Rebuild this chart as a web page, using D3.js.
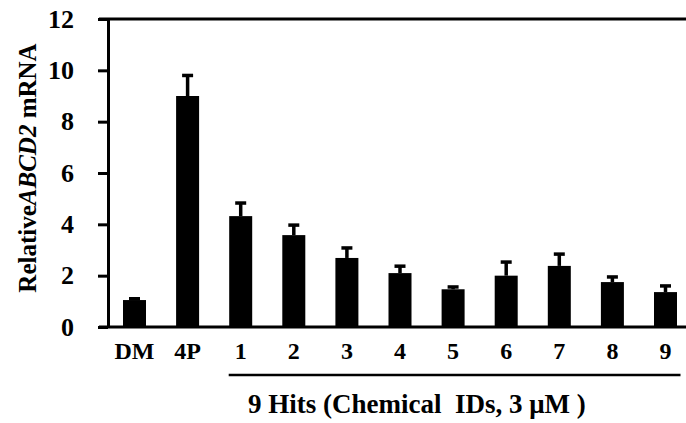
<!DOCTYPE html>
<html>
<head>
<meta charset="utf-8">
<script src="https://cdn.jsdelivr.net/npm/d3@7"></script>
<style>
  body { margin: 0; background: #fff; }
  svg text { font-family: "Liberation Serif", "Times New Roman", "DejaVu Serif", serif !important; font-weight: bold; fill: #000; }
</style>
</head>
<body>
<svg width="686" height="423"></svg>
<script>
// data
const categories = ["DM", "4P", "1", "2", "3", "4", "5", "6", "7", "8", "9"];
const means = [1.05, 9.0, 4.32, 3.58, 2.69, 2.1, 1.47, 2.0, 2.38, 1.75, 1.36];
const errors = [0.05, 0.8, 0.51, 0.39, 0.39, 0.27, 0.09, 0.53, 0.46, 0.2, 0.24];
const yTicks = [0, 2, 4, 6, 8, 10, 12];
const hitsLabel = "9 Hits (Chemical\u00a0\u00a0IDs, 3 \u03bcM )";

var svg = d3.select("svg");
const g = svg.append("g");

var y = d3.scaleLinear().domain([0, 12]).range([327, 19]);
var x = d3.scalePoint().domain(categories).range([134.5, 665.5]);
const barW = 23;

// bars
g.selectAll("rect.bar")
  .data(categories)
  .enter()
  .append("rect")
  .attr("class", "bar")
  .attr("x", (d) => x(d) - barW / 2)
  .attr("y", (d, i) => y(means[i]))
  .attr("width", barW)
  .attr("height", (d, i) => y(0) - y(means[i]))
  .attr("fill", "#000");

// error bars (upper only)
g.selectAll("line.err")
  .data(categories)
  .enter()
  .append("line")
  .attr("x1", (d) => x(d))
  .attr("x2", (d) => x(d))
  .attr("y1", (d, i) => y(means[i]))
  .attr("y2", (d, i) => y(means[i] + errors[i]))
  .attr("stroke", "#000")
  .attr("stroke-width", 3.5);

g.selectAll("line.cap")
  .data(categories)
  .enter()
  .append("line")
  .attr("x1", (d) => x(d) - 5.5)
  .attr("x2", (d) => x(d) + 5.5)
  .attr("y1", (d, i) => y(means[i] + errors[i]))
  .attr("y2", (d, i) => y(means[i] + errors[i]))
  .attr("stroke", "#000")
  .attr("stroke-width", 3.5);

// y axis
const yAxis = g.append("g")
  .attr("transform", "translate(108,0)")
  .call(d3.axisLeft(y).tickValues(yTicks).tickSize(10).tickPadding(24).tickSizeOuter(0));
yAxis.attr("font-family", null);
yAxis.select(".domain").attr("stroke-width", 3);
yAxis.selectAll(".tick line").attr("stroke-width", 3);
yAxis.selectAll(".tick text").attr("font-size", 26);

// x axis line and top line
g.append("line")
  .attr("x1", 99).attr("x2", 686)
  .attr("y1", y(0)).attr("y2", y(0))
  .attr("stroke", "#000").attr("stroke-width", 3);
g.append("line")
  .attr("x1", 99).attr("x2", 686)
  .attr("y1", y(12)).attr("y2", y(12))
  .attr("stroke", "#000").attr("stroke-width", 3);

// x labels
g.selectAll("text.xlab")
  .data(categories)
  .enter()
  .append("text")
  .attr("class", "xlab")
  .attr("x", (d) => x(d))
  .attr("y", 359)
  .attr("text-anchor", "middle")
  .attr("font-size", 24)
  .text((d) => d);

// bracket under the hits
g.append("line")
  .attr("x1", x("1") - 12).attr("x2", x("9") + 15)
  .attr("y1", 375).attr("y2", 375)
  .attr("stroke", "#000").attr("stroke-width", 2.5);

g.append("text")
  .attr("x", 248)
  .attr("y", 413)
  .attr("font-size", 27)
  .text(hitsLabel);

// y title
const yt = g.append("text")
  .attr("transform", "translate(36,168) rotate(-90)")
  .attr("text-anchor", "middle")
  .attr("font-size", 25);
yt.append("tspan").text("Relative");
yt.append("tspan").attr("font-style", "italic").text("ABCD2");
yt.append("tspan").text(" mRNA");
</script>
</body>
</html>
